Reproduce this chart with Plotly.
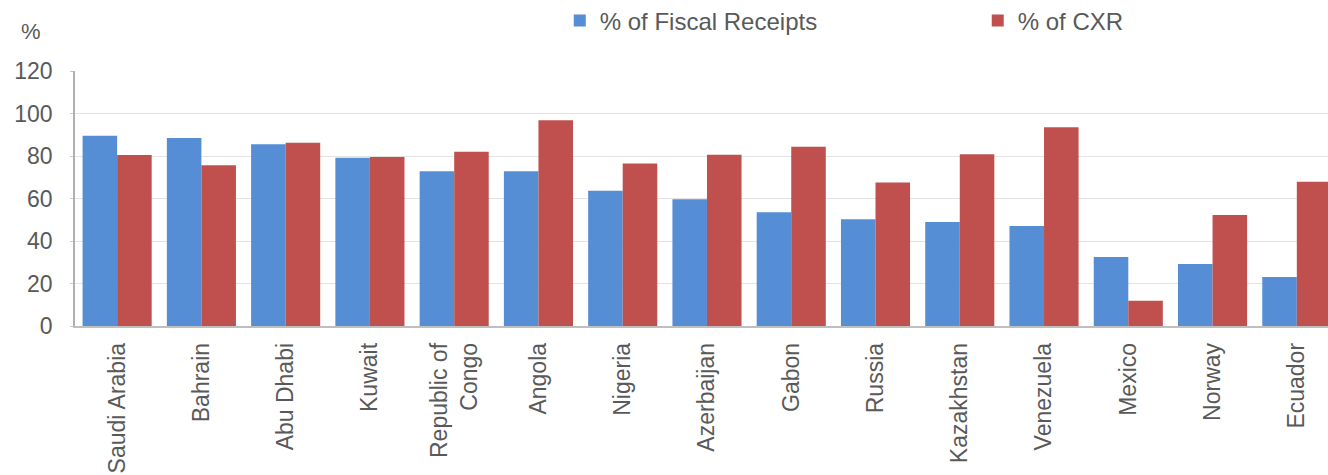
import plotly.graph_objects as go

countries = ["Saudi Arabia", "Bahrain", "Abu Dhabi", "Kuwait", "Republic of<br>Congo",
             "Angola", "Nigeria", "Azerbaijan", "Gabon", "Russia", "Kazakhstan",
             "Venezuela", "Mexico", "Norway", "Ecuador"]
fiscal = [89.5, 88.5, 85.5, 79.2, 72.8, 72.8, 63.7, 59.6, 53.5, 50.2, 48.9, 47.1, 32.5, 29.2, 23.1]
cxr = [80.5, 75.7, 86.2, 79.5, 82.0, 96.8, 76.5, 80.6, 84.4, 67.5, 80.8, 93.5, 11.9, 52.2, 67.9]
y_ticks = [0, 20, 40, 60, 80, 100, 120]

FONT = "Liberation Sans, Arial, sans-serif"
GRAY = "#595959"

fig = go.Figure()
fig.add_trace(go.Bar(x=list(range(len(countries))), y=fiscal, name="% of Fiscal Receipts",
                     marker=dict(color="#558ED5", line=dict(width=0))))
fig.add_trace(go.Bar(x=list(range(len(countries))), y=cxr, name="% of CXR",
                     marker=dict(color="#C0504D", line=dict(width=0))))

fig.update_layout(
    width=1328, height=475,
    margin=dict(l=75, r=0, t=71, b=149, autoexpand=False),
    paper_bgcolor="white", plot_bgcolor="white",
    barmode="group", bargap=0.18, bargroupgap=0,
    font=dict(family=FONT, color=GRAY, size=22),
    showlegend=True,
    legend=dict(orientation="h", x=0.4215, y=0.956, xanchor="left", yanchor="middle",
                xref="container", yref="container", font=dict(size=24, color=GRAY),
                itemwidth=30, entrywidth=373, bgcolor="rgba(0,0,0,0)"),
    xaxis=dict(
        tickmode="array", tickvals=list(range(len(countries))), ticktext=countries,
        tickangle=-90, range=[-0.5, 14.37], showgrid=False, zeroline=False,
        showline=True, linecolor="#bfbfbf", linewidth=1.5, ticks="", automargin=False,
        tickfont=dict(size=23, color=GRAY), ticklabelstandoff=6,
    ),
    yaxis=dict(
        range=[0, 120], tickvals=y_ticks, showgrid=True, gridcolor="#e3e3e3", gridwidth=1,
        zeroline=False, showline=True, linecolor="#b0b0b0", linewidth=1.5, automargin=False,
        ticks="outside", ticklen=3, tickcolor="#c8c8c8",
        tickfont=dict(size=23, color=GRAY), ticklabelstandoff=13,
    ),
)
fig.add_annotation(text="%", xref="paper", yref="paper", x=-0.035, y=1.153,
                   xanchor="center", yanchor="middle", showarrow=False,
                   font=dict(size=22, color=GRAY, family=FONT))

fig.write_html("out.html", config={"displayModeBar": False},
               post_script="document.body.style.margin='0';document.body.style.padding='0';")
